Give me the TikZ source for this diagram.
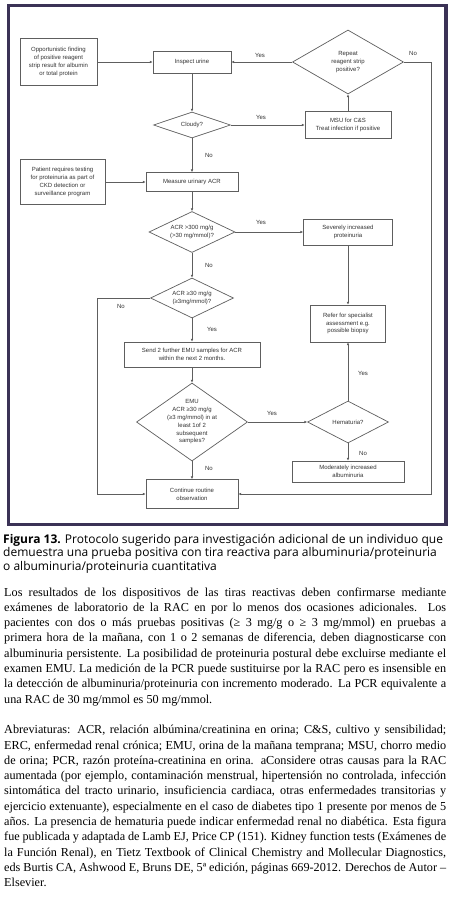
\documentclass[tikz,border=0pt]{standalone}
\usepackage{fontspec}
\setmainfont{Liberation Serif}
\newfontfamily\capfont{Open Sans}
\newfontfamily\flowfont{Liberation Sans}
\usetikzlibrary{shapes.geometric,arrows.meta}
\definecolor{framecol}{HTML}{3B3256}
\definecolor{linecol}{HTML}{5E5E5E}
\definecolor{fltext}{HTML}{333333}
\begin{document}
\begin{tikzpicture}[x=1pt,y=-1pt,
  box/.style={draw=linecol, line width=0.7pt, fill=white, inner sep=1pt,
    font=\flowfont\fontsize{6}{7.8}\selectfont, text=fltext, align=center},
  dia/.style={draw=linecol, line width=0.7pt, fill=white, diamond, inner sep=0pt},
  dtxt/.style={font=\flowfont\fontsize{6}{7.8}\selectfont, text=fltext, align=center, inner sep=0pt},
  arr/.style={draw=linecol, line width=0.6pt, -{Latex[length=2.8pt,width=2.6pt]}},
  lab/.style={font=\flowfont\fontsize{6}{7}\selectfont, text=fltext, inner sep=0pt},
  capline/.style={anchor=base west, inner sep=0pt, font=\capfont\fontsize{12}{14}\selectfont},
  bodyline/.style={anchor=base west, inner sep=0pt, font=\fontsize{12.2}{14}\selectfont},
]
\useasboundingbox (0,0) rectangle (453,897);
\fill[white] (0,0) rectangle (453,897);
\draw[framecol, line width=3.5pt] (8.5,5.5) rectangle (446,524.5);

% boxes
\node[box, minimum width=77pt, minimum height=47pt] (opp) at (58.5,62) {Opportunistic finding\\of positive reagent\\strip result for albumin\\or total protein};
\node[box, minimum width=78pt, minimum height=22pt] (insp) at (192,62) {Inspect urine};
\node[dia, minimum width=111pt, minimum height=64pt] (rep) at (348,62) {};
\node[dtxt] (rept) at (rep) {Repeat\\reagent strip\\positive?};
\node[dia, minimum width=77pt, minimum height=26pt] (cloudy) at (192,125) {};
\node[dtxt] (cloudyt) at (cloudy) {Cloudy?};
\node[box, minimum width=86pt, minimum height=27pt] (msu) at (348,125) {MSU for C\&S\\Treat infection if positive};
\node[box, minimum width=85pt, minimum height=45pt] (pat) at (62.5,182) {Patient requires testing\\for proteinuria as part of\\CKD detection or\\surveillance program};
\node[box, minimum width=92pt, minimum height=19pt] (meas) at (192,182) {Measure urinary ACR};
\node[dia, minimum width=86pt, minimum height=41pt] (acrA) at (192,232) {};
\node[dtxt] (acrAt) at (acrA) {ACR >300 mg/g\\(>30 mg/mmol)?};
\node[box, minimum width=89pt, minimum height=26pt] (sev) at (348,232) {Severely increased\\proteinuria};
\node[dia, minimum width=83pt, minimum height=40pt] (acrB) at (192,298) {};
\node[dtxt] (acrBt) at (acrB) {ACR ≥30 mg/g\\(≥3mg/mmol)?};
\node[box, minimum width=75pt, minimum height=37pt] (refer) at (348,323.5) {Refer for specialist\\assessment e.g.\\possible biopsy};
\node[box, minimum width=136pt, minimum height=25pt] (send) at (192,354.5) {Send 2 further EMU samples for ACR\\within the next 2 months.};
\node[dia, minimum width=111pt, minimum height=78pt] (emu) at (192,422) {};
\node[dtxt] (emut) at (emu) {EMU\\ACR ≥30 mg/g\\(≥3 mg/mmol) in at\\least 1of 2\\subsequent\\samples?};
\node[dia, minimum width=81pt, minimum height=42pt] (hem) at (348,422) {};
\node[dtxt] (hemt) at (hem) {Hematuria?};
\node[box, minimum width=112pt, minimum height=21pt] (mod) at (348,471.5) {Moderately increased\\albuminuria};
\node[box, minimum width=92pt, minimum height=29pt] (cont) at (192,494) {Continue routine\\observation};

\coordinate (rc) at (431,62);
\coordinate (lc) at (97,298);

% connectors
\draw[arr] (opp) -- (insp);
\draw[arr] (rep) -- (insp);
\draw[arr] (insp) -- (cloudy);
\draw[arr] (cloudy) -- (msu);
\draw[arr] (msu) -- (rep);
\draw[arr] (cloudy) -- (meas);
\draw[arr] (pat) -- (meas);
\draw[arr] (meas) -- (acrA);
\draw[arr] (acrA) -- (sev);
\draw[arr] (sev) -- (refer);
\draw[arr] (acrA) -- (acrB);
\draw[arr] (acrB) -- (send);
\draw[arr] (send) -- (emu);
\draw[arr] (emu) -- (hem);
\draw[arr] (hem) -- (refer);
\draw[arr] (hem) -- (mod);
\draw[arr] (emu) -- (cont);
\draw[arr] (rep.east) -- (rc) |- (cont.east);
\draw[arr] (acrB.west) -- (lc) |- (cont.west);

% labels
\node[lab] (y1) at (260,55) {Yes};
\node[lab] (n1) at (413,53) {No};
\node[lab] (y2) at (261,117) {Yes};
\node[lab] (n2) at (209,155) {No};
\node[lab] (y3) at (261,222) {Yes};
\node[lab] (n3) at (209,265) {No};
\node[lab] (n4) at (121,306) {No};
\node[lab] (y4) at (212,329) {Yes};
\node[lab] (y5) at (272,413) {Yes};
\node[lab] (y6) at (363,373) {Yes};
\node[lab] (n5) at (363,453) {No};
\node[lab] (n6) at (209,468) {No};

% caption
\node[capline] (c1) at (3,543) {\textbf{Figura 13.} Protocolo sugerido para investigación adicional de un individuo que};
\node[capline] (c2) at (3,556.5) {demuestra una prueba positiva con tira reactiva para albuminuria/proteinuria};
\node[capline] (c3) at (3,570) {o albuminuria/proteinuria cuantitativa};

% body
\node[bodyline] (b1) at (4,596) {\makebox[442pt][s]{Los resultados de los dispositivos de las tiras reactivas deben confirmarse mediante}};
\node[bodyline] (b2) at (4,611.3) {\makebox[442pt][s]{exámenes de laboratorio de la RAC en por lo menos dos ocasiones adicionales. Los}};
\node[bodyline] (b3) at (4,626.6) {\makebox[442pt][s]{pacientes con dos o más pruebas positivas (≥ 3 mg/g o ≥ 3 mg/mmol) en pruebas a}};
\node[bodyline] (b4) at (4,641.9) {\makebox[442pt][s]{primera hora de la mañana, con 1 o 2 semanas de diferencia, deben diagnosticarse con}};
\node[bodyline] (b5) at (4,657.2) {\makebox[442pt][s]{albuminuria persistente. La posibilidad de proteinuria postural debe excluirse mediante el}};
\node[bodyline] (b6) at (4,672.5) {\makebox[442pt][s]{examen EMU. La medición de la PCR puede sustituirse por la RAC pero es insensible en}};
\node[bodyline] (b7) at (4,687.8) {\makebox[442pt][s]{la detección de albuminuria/proteinuria con incremento moderado. La PCR equivalente a}};
\node[bodyline] (b8) at (4,703.1) {una RAC de 30 mg/mmol es 50 mg/mmol.};

\node[bodyline] (d1) at (4,733.7) {\makebox[442pt][s]{Abreviaturas: ACR, relación albúmina/creatinina en orina; C\&S, cultivo y sensibilidad;}};
\node[bodyline] (d2) at (4,749) {\makebox[442pt][s]{ERC, enfermedad renal crónica; EMU, orina de la mañana temprana; MSU, chorro medio}};
\node[bodyline] (d3) at (4,764.3) {\makebox[442pt][s]{de orina; PCR, razón proteína-creatinina en orina. aConsidere otras causas para la RAC}};
\node[bodyline] (d4) at (4,779.6) {\makebox[442pt][s]{aumentada (por ejemplo, contaminación menstrual, hipertensión no controlada, infección}};
\node[bodyline] (d5) at (4,794.9) {\makebox[442pt][s]{sintomática del tracto urinario, insuficiencia cardiaca, otras enfermedades transitorias y}};
\node[bodyline] (d6) at (4,810.2) {\makebox[442pt][s]{ejercicio extenuante), especialmente en el caso de diabetes tipo 1 presente por menos de 5}};
\node[bodyline] (d7) at (4,825.5) {\makebox[442pt][s]{años. La presencia de hematuria puede indicar enfermedad renal no diabética. Esta figura}};
\node[bodyline] (d8) at (4,840.8) {\makebox[442pt][s]{fue publicada y adaptada de Lamb EJ, Price CP (151). Kidney function tests (Exámenes de}};
\node[bodyline] (d9) at (4,856.1) {\makebox[442pt][s]{la Función Renal), en Tietz Textbook of Clinical Chemistry and Mollecular Diagnostics,}};
\node[bodyline] (d10) at (4,871.4) {\makebox[442pt][s]{eds Burtis CA, Ashwood E, Bruns DE, 5ª edición, páginas 669-2012. Derechos de Autor –}};
\node[bodyline] (d11) at (4,886.7) {Elsevier.};
\end{tikzpicture}
\end{document}
